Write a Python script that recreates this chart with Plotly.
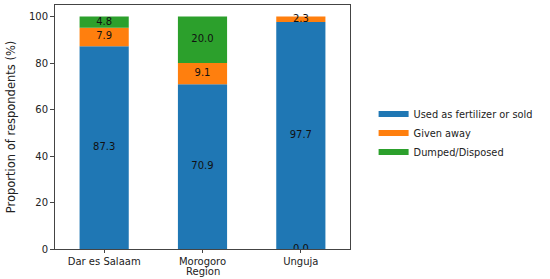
import plotly.graph_objects as go

regions = ["Dar es Salaam", "Morogoro", "Unguja"]
series_names = ["Used as fertilizer or sold", "Given away", "Dumped/Disposed"]
used = [87.3, 70.9, 97.7]
given = [7.9, 9.1, 2.3]
dumped = [4.8, 20.0, 0.0]
colors = ["#1f77b4", "#ff7f0e", "#2ca02c"]
y_ticks = [0, 20, 40, 60, 80, 100]
x_title = "Region"

FONT = "DejaVu Sans"
fig = go.Figure()
series = [used, given, dumped]
base = [0.0] * len(regions)
label_x, label_y, label_t = [], [], []
for name, vals, col in zip(series_names, series, colors):
    fig.add_trace(go.Bar(
        x=regions, y=vals, base=base[:], name=name, marker_color=col,
        marker_line_width=0, width=0.5, showlegend=False, hoverinfo="skip"))
    for i, v in enumerate(vals):
        label_x.append(regions[i])
        # zero-height segments are labelled at the axis baseline, as in the original
        label_y.append(base[i] + v / 2 if v > 0 else 0)
        label_t.append(f"{v:.1f}")
    base = [b + v for b, v in zip(base, vals)]
    fig.add_trace(go.Scatter(
        x=[None], y=[None], mode="lines", name=name,
        line=dict(color=col, width=6), showlegend=True))

fig.add_trace(go.Scatter(
    x=label_x, y=label_y, text=label_t, mode="text", showlegend=False,
    textfont=dict(family=FONT, size=10, color="#111111"), hoverinfo="skip"))

fig.add_annotation(
    text=x_title, xref="x", yref="paper", x=regions[1], y=-0.092,
    xanchor="center", yanchor="middle", showarrow=False,
    font=dict(family=FONT, size=10, color="#222222"))

fig.update_layout(
    width=550, height=279,
    margin=dict(l=55, r=200, t=5, b=30),
    paper_bgcolor="white", plot_bgcolor="white",
    barmode="overlay",
    font=dict(family=FONT, size=10, color="#222222"),
    legend=dict(x=1.08, xanchor="left", y=0.475, yanchor="middle",
                font=dict(family=FONT, size=9.8), itemwidth=30,
                bgcolor="rgba(0,0,0,0)", tracegroupgap=0),
)
fig.update_xaxes(
    range=[-0.5, 2.5], showline=True, linecolor="#444444", linewidth=1, mirror=True,
    ticks="outside", ticklen=3, tickcolor="#444444", showgrid=False,
    tickfont=dict(size=10))
fig.update_yaxes(
    range=[0, 105], tickvals=y_ticks, showline=True, linecolor="#444444", linewidth=1,
    mirror=True, ticks="outside", ticklen=4, tickcolor="#444444", showgrid=False,
    zeroline=False,
    title=dict(text="Proportion of respondents (%)", standoff=10, font=dict(size=11.5)),
    tickfont=dict(size=10))

fig.write_html("out.html",
               config={"displayModeBar": False, "staticPlot": True},
               post_script="document.body.style.margin='0';document.body.style.overflow='hidden';")
